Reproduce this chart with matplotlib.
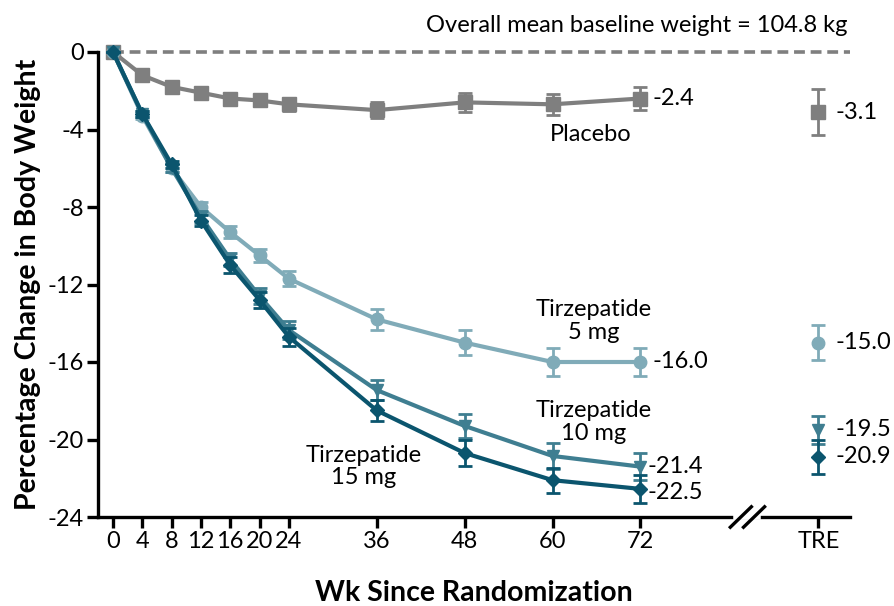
import matplotlib
matplotlib.use("Agg")
import matplotlib.pyplot as plt
import numpy as np

plt.rcParams['font.family'] = ['Lato', 'DejaVu Sans']

weeks = [0, 4, 8, 12, 16, 20, 24, 36, 48, 60, 72]
tre_x = 96.3
break_x = 86.6

placebo = [0, -1.2, -1.8, -2.1, -2.4, -2.5, -2.7, -3.0, -2.6, -2.7, -2.4]
placebo_err = [0, 0.15, 0.15, 0.2, 0.25, 0.3, 0.35, 0.4, 0.5, 0.55, 0.6]
tz5 = [0, -3.3, -6.0, -8.0, -9.3, -10.5, -11.7, -13.8, -15.0, -16.0, -16.0]
tz5_err = [0, 0.15, 0.2, 0.25, 0.3, 0.35, 0.4, 0.55, 0.65, 0.73, 0.73]
tz10 = [0, -3.2, -6.0, -8.5, -10.7, -12.6, -14.35, -17.45, -19.3, -20.85, -21.4]
tz10_err = [0, 0.15, 0.2, 0.3, 0.35, 0.4, 0.45, 0.5, 0.6, 0.65, 0.7]
tz15 = [0, -3.2, -5.8, -8.7, -11.0, -12.8, -14.7, -18.5, -20.7, -22.1, -22.55]
tz15_err = [0, 0.15, 0.2, 0.3, 0.4, 0.4, 0.45, 0.52, 0.65, 0.65, 0.73]

tre_vals = [-3.1, -15.0, -19.5, -20.9]
tre_errs = [1.2, 0.9, 0.73, 0.9]
end_labels = ["-2.4", "-16.0", "-21.4", "-22.5"]
tre_labels = ["-3.1", "-15.0", "-19.5", "-20.9"]

yticks = [0, -4, -8, -12, -16, -20, -24]
ytick_labels = ["0", "-4", "-8", "-12", "-16", "-20", "-24"]
xticks = weeks + [tre_x]
xtick_labels = [str(w) for w in weeks] + ["TRE"]

colors = ["#7f7f7f", "#80abb8", "#3f7e91", "#0b556e"]
markers = ["s", "o", "v", "D"]
msizes = [10, 9, 9, 7]
series = [placebo, tz5, tz10, tz15]
errs = [placebo_err, tz5_err, tz10_err, tz15_err]

fig = plt.figure(figsize=(8.94, 6.06), dpi=100)
ax = fig.add_axes([98/894, (606-517)/606, 752/894, 465/606])
ax.set_xlim(-2.05, 100.6)
ax.set_ylim(-24, 0)

# dashed zero line
ax.plot([0, 100.6], [0, 0], ls=(0, (3, 1.6)), color="#7f7f7f", lw=2.6, zorder=1, clip_on=False)

for i in [0, 1, 2, 3]:
    c = colors[i]
    ax.errorbar(weeks, series[i], yerr=errs[i], color=c, lw=3.0, marker=markers[i],
                ms=msizes[i], capsize=5, capthick=2, elinewidth=2, zorder=3 + i,
                clip_on=False)
    ax.errorbar([tre_x], [tre_vals[i]], yerr=[tre_errs[i]], color=c, lw=0,
                marker=markers[i], ms=msizes[i], capsize=5, capthick=2, elinewidth=2,
                zorder=3 + i, clip_on=False)

fs = 17
end_pos = [(73.6, -2.4), (73.7, -16.0), (72.9, -21.4), (72.9, -22.75)]
for (x, y), t in zip(end_pos, end_labels):
    ax.text(x, y, t, fontsize=fs, va="center", ha="left")
tre_pos = [(98.6, -3.1), (98.6, -15.0), (98.6, -19.5), (98.6, -20.9)]
for (x, y), t in zip(tre_pos, tre_labels):
    ax.text(x, y, t, fontsize=fs, va="center", ha="left", clip_on=False)

ax.text(65.2, -4.28, "Placebo", fontsize=fs, ha="center", va="center")
ax.text(65.6, -13.9, "Tirzepatide\n5 mg", fontsize=fs, ha="center", va="center", linespacing=1.1)
ax.text(65.6, -19.1, "Tirzepatide\n10 mg", fontsize=fs, ha="center", va="center", linespacing=1.1)
ax.text(34.2, -21.4, "Tirzepatide\n15 mg", fontsize=fs, ha="center", va="center", linespacing=1.1)

fig.text(637/894, 1 - 25/606, "Overall mean baseline weight = 104.8 kg", fontsize=fs,
         ha="center", va="center")

for s in ["top", "right"]:
    ax.spines[s].set_visible(False)
for s in ["left", "bottom"]:
    ax.spines[s].set_linewidth(2.4)

ax.set_yticks(yticks)
ax.set_yticklabels(ytick_labels, fontsize=fs)
ax.set_xticks(xticks)
ax.set_xticklabels(xtick_labels, fontsize=fs)
ax.tick_params(axis="both", width=2.4, length=8, direction="out", pad=2)

ax.set_ylabel("Percentage Change in Body Weight", fontsize=20.5, fontweight="bold", labelpad=5)
ax.set_xlabel("Wk Since Randomization", fontsize=20.5, fontweight="bold", labelpad=20)

# axis break marks
trans = ax.get_xaxis_transform()
dx = 0.9
dy = 0.022
ax.plot([break_x - 1.5, break_x + 1.5], [0, 0], color="white", lw=4, transform=trans,
        clip_on=False, zorder=10)
for off in [-0.9, 0.9]:
    ax.plot([break_x + off - dx * 1.6, break_x + off + dx * 1.6], [-dy, dy], color="black",
            lw=2.4, transform=trans, clip_on=False, zorder=11)

fig.savefig("out.png", dpi=100)
